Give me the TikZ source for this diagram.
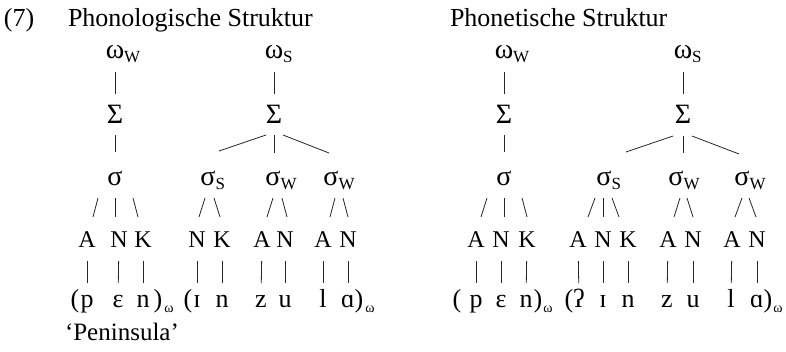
\documentclass[tikz,border=0pt]{standalone}
\usepackage{fontspec}
\setmainfont{Liberation Serif}
% subscript that does not widen its node, so the node stays centred on the main glyph
\newcommand{\lowsub}[1]{\rlap{\raisebox{-4pt}{\fontsize{17}{17}\selectfont #1}}}
% Greek category labels, set a little larger than the segment letters
\newcommand{\gk}[1]{{\fontsize{28}{28}\selectfont #1}}
\begin{document}
\begin{tikzpicture}[x=1pt,y=-1pt,
  every node/.style={inner sep=0pt, outer sep=0pt, anchor=base},
  ttl/.style={font=\fontsize{26}{30}\selectfont, anchor=base west},
  lab/.style={font=\fontsize{24}{28}\selectfont, text height=16pt, text depth=0pt},
  seg/.style={font=\fontsize{26}{28}\selectfont, text height=12pt, text depth=0pt},
  wsub/.style={font=\fontsize{14}{14}\selectfont},
  br/.style={line width=0.8pt, black!85},
  vbar/.style={br, shorten <=14pt, shorten >=12pt}]
\useasboundingbox (0,0) rectangle (786,351);

% ---------------- headings ----------------
\node[ttl] (num) at (4,26) {(7)};
\node[ttl] (hl) at (68,26) {Phonologische Struktur};
\node[ttl] (hr) at (450,26) {Phonetische Struktur};

% ================= phonological structure =================
\node[lab] (w1) at (115,58) {\gk{ω}\lowsub{W}};
\node[lab] (w2) at (274,58) {\gk{ω}\lowsub{S}};
\node[lab] (S1) at (115,123) {\gk{Σ}};
\node[lab] (S2) at (274,123) {\gk{Σ}};
\node[lab] (s1) at (115,185) {\gk{σ}};
\node[lab] (s2) at (208,185) {\gk{σ}\lowsub{S}};
\node[lab] (s3) at (273,185) {\gk{σ}\lowsub{W}};
\node[lab] (s4) at (331,185) {\gk{σ}\lowsub{W}};

\draw[br, shorten <=14pt, shorten >=13pt] (w1) -- (S1);
\draw[br, shorten <=14pt, shorten >=13pt] (w2) -- (S2);
\draw[br, shorten <=12pt, shorten >=17pt] (S1) -- (s1);
\draw[br] (S2.base) ++(-8,12) -- ++(-47,16);
\draw[br] (S2.base) ++(0,12) -- ++(0,18);
\draw[br] (S2.base) ++(9,12) -- ++(46,18);

\draw[br] (s1.base) ++(-17,13) -- ++(-5,19);
\draw[br] (s1.base) ++(0,13) -- ++(0,19);
\draw[br] (s1.base) ++(18,13) -- ++(5,19);
\draw[br] (s2.base) ++(-3,13) -- ++(-6,19);
\draw[br] (s2.base) ++(6,13) -- ++(6,19);
\draw[br] (s3.base) ++(0,13) -- ++(-6,19);
\draw[br] (s3.base) ++(9,13) -- ++(5,19);
\draw[br] (s4.base) ++(4,13) -- ++(-5,19);
\draw[br] (s4.base) ++(12,13) -- ++(5,19);

\node[lab] (A1) at (87,247) {A};
\node[lab] (N1) at (119,247) {N};
\node[lab] (K1) at (143,247) {K};
\node[lab] (N2) at (197,247) {N};
\node[lab] (K2) at (222,247) {K};
\node[lab] (A3) at (262,247) {A};
\node[lab] (N3) at (285,247) {N};
\node[lab] (A4) at (323,247) {A};
\node[lab] (N4) at (348,247) {N};

\node[seg] (lp1) at (75,307) {(};
\node[seg] (p1) at (87,307) {p};
\node[seg] (e1) at (118,307) {ɛ};
\node[seg] (n1) at (143,307) {n};
\node[seg] (rp1) at (158,307) {)};
\node[wsub] (o1) at (169,312) {ω};
\node[seg] (lp2) at (188,307) {(};
\node[seg] (i1) at (197,307) {ɪ};
\node[seg] (n2) at (222,307) {n};
\node[seg] (z1) at (261,307) {z};
\node[seg] (u1) at (285,307) {u};
\node[seg] (l1) at (323,307) {l};
\node[seg] (a1) at (348,307) {ɑ};
\node[seg] (rp2) at (359,307) {)};
\node[wsub] (o2) at (370,312) {ω};

\draw[vbar] (A1) -- (p1);
\draw[vbar] (N1) -- (e1);
\draw[vbar] (K1) -- (n1);
\draw[vbar] (N2) -- (i1);
\draw[vbar] (K2) -- (n2);
\draw[vbar] (A3) -- (z1);
\draw[vbar] (N3) -- (u1);
\draw[vbar] (A4) -- (l1);
\draw[vbar] (N4) -- (a1);

\node[ttl, font=\fontsize{25}{28}\selectfont] (gloss) at (65,340) {‘Peninsula’};

% ================= phonetic structure =================
\node[lab] (w3) at (504,58) {\gk{ω}\lowsub{W}};
\node[lab] (w4) at (683,58) {\gk{ω}\lowsub{S}};
\node[lab] (S3) at (504,123) {\gk{Σ}};
\node[lab] (S4) at (683,123) {\gk{Σ}};
\node[lab] (s5) at (504,185) {\gk{σ}};
\node[lab] (s6) at (604,185) {\gk{σ}\lowsub{S}};
\node[lab] (s7) at (676,185) {\gk{σ}\lowsub{W}};
\node[lab] (s8) at (742,185) {\gk{σ}\lowsub{W}};

\draw[br, shorten <=14pt, shorten >=13pt] (w3) -- (S3);
\draw[br, shorten <=14pt, shorten >=13pt] (w4) -- (S4);
\draw[br, shorten <=12pt, shorten >=17pt] (S3) -- (s5);
\draw[br] (S4.base) ++(-10,13) -- ++(-47,16);
\draw[br] (S4.base) ++(0,13) -- ++(0,17);
\draw[br] (S4.base) ++(9,13) -- ++(47,18);

\draw[br] (s5.base) ++(-17,13) -- ++(-6,19);
\draw[br] (s5.base) ++(0,13) -- ++(0,19);
\draw[br] (s5.base) ++(18,13) -- ++(5,19);
\draw[br] (s6.base) ++(-9,13) -- ++(-7,19);
\draw[br] (s6.base) ++(-1,13) -- ++(0,19);
\draw[br] (s6.base) ++(8,13) -- ++(7,19);
\draw[br] (s7.base) ++(4,13) -- ++(-6,19);
\draw[br] (s7.base) ++(11,13) -- ++(6,19);
\draw[br] (s8.base) ++(0,13) -- ++(-7,19);
\draw[br] (s8.base) ++(7,13) -- ++(7,19);

\node[lab] (A5) at (476,247) {A};
\node[lab] (N5) at (501,247) {N};
\node[lab] (K5) at (527,247) {K};
\node[lab] (A6) at (578,247) {A};
\node[lab] (N6) at (603,247) {N};
\node[lab] (K6) at (628,247) {K};
\node[lab] (A7) at (668,247) {A};
\node[lab] (N7) at (693,247) {N};
\node[lab] (A8) at (732,247) {A};
\node[lab] (N8) at (757,247) {N};

\node[seg] (lp3) at (457,307) {(};
\node[seg] (p2) at (476,307) {p};
\node[seg] (e2) at (501,307) {ɛ};
\node[seg] (n3) at (526,307) {n};
\node[seg] (rp3) at (538,307) {)};
\node[wsub] (o3) at (548,312) {ω};
\node[seg] (lp4) at (569,307) {(};
\node[seg] (q1) at (579,307) {ʔ};
\node[seg] (i2) at (603,307) {ɪ};
\node[seg] (n4) at (628,307) {n};
\node[seg] (z2) at (667,307) {z};
\node[seg] (u2) at (693,307) {u};
\node[seg] (l2) at (731,307) {l};
\node[seg] (a2) at (757,307) {ɑ};
\node[seg] (rp4) at (768,307) {)};
\node[wsub] (o4) at (778,312) {ω};

\draw[vbar] (A5) -- (p2);
\draw[vbar] (N5) -- (e2);
\draw[vbar] (K5) -- (n3);
\draw[vbar] (A6) -- (q1);
\draw[vbar] (N6) -- (i2);
\draw[vbar] (K6) -- (n4);
\draw[vbar] (A7) -- (z2);
\draw[vbar] (N7) -- (u2);
\draw[vbar] (A8) -- (l2);
\draw[vbar] (N8) -- (a2);
\end{tikzpicture}
\end{document}
